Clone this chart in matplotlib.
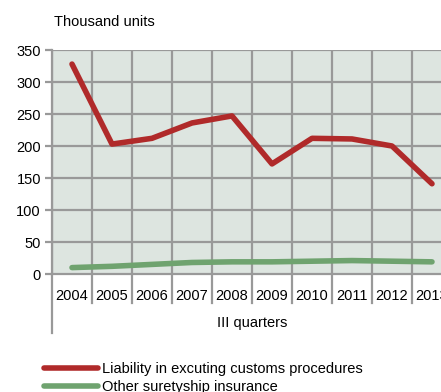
import matplotlib.pyplot as plt
import matplotlib.transforms as mtransforms
import numpy as np

# quarterly totals, thousand units
years = ['2004', '2005', '2006', '2007', '2008', '2009', '2010', '2011', '2012', '2013']
liability = [328, 203, 212, 236, 247, 172, 212, 211, 200, 141]
other = [10, 12, 15, 18, 19, 19, 20, 21, 20, 19]
yticks = [0, 50, 100, 150, 200, 250, 300, 350]

plt.rcParams['font.family'] = ['Liberation Sans', 'DejaVu Sans']

W, H = 441, 392
fig = plt.figure(figsize=(W / 100, H / 100), dpi=100)

# plot box in pixels: left 52, top 50, bottom 274, each category ~40px wide
left, top, bottom, cat_w = 52, 50, 274, 40
ax = fig.add_axes([left / W, (H - bottom) / H, cat_w * len(years) / W, (bottom - top) / H])
ax.set_facecolor('#dde5e0')

x = np.arange(len(years))
ax.set_xlim(-0.5, len(years) - 0.5)
ax.set_ylim(0, 350)

grid_c = '#999999'
for b in np.arange(-0.5, len(years), 1.0):
    ax.axvline(b, color=grid_c, lw=1.6, zorder=1)
for v in yticks[1:]:
    ax.axhline(v, color=grid_c, lw=1.6, zorder=1)

ax.plot(x, liability, color='#b02a2a', lw=4, solid_capstyle='round', zorder=3,
        label='Liability in excuting customs procedures')
ax.plot(x, other, color='#6fa36f', lw=4, solid_capstyle='round', zorder=3,
        label='Other suretyship insurance')

for s in ['top', 'right']:
    ax.spines[s].set_visible(False)
ax.spines['left'].set_color(grid_c)
ax.spines['left'].set_linewidth(1.6)
ax.spines['bottom'].set_color(grid_c)
ax.spines['bottom'].set_linewidth(1.6)

ax.set_yticks(yticks)
ax.set_yticklabels([str(v) for v in yticks], fontsize=10.5)
ax.tick_params(axis='y', length=5, width=1.6, color=grid_c, pad=3)
ax.set_xticks([])

# category separators and labels below the axis
tr = mtransforms.blended_transform_factory(ax.transData, fig.transFigure)
sep_bottom = (H - 303) / H
axis_y = (H - bottom) / H
for b in np.arange(0.5, len(years), 1.0):
    fig.add_artist(plt.Line2D([b, b], [axis_y, sep_bottom], transform=tr,
                              color=grid_c, lw=1.6))
fig.add_artist(plt.Line2D([-0.5, -0.5], [axis_y, (H - 333) / H], transform=tr,
                          color=grid_c, lw=1.6))
for i, yr in enumerate(years):
    fig.text(i, (H - 296) / H, yr, transform=tr, ha='center', va='center', fontsize=10.5)

fig.text(252 / W, (H - 323) / H, 'III quarters', ha='center', va='center', fontsize=10.5)
fig.text(54 / W, (H - 22) / H, 'Thousand units', ha='left', va='center', fontsize=10.5)

fig.legend(loc='upper left', bbox_to_anchor=(44 / W, (H - 362) / H), frameon=False,
           fontsize=10.5, handlelength=3.7, handletextpad=0.3, labelspacing=0.25,
           borderaxespad=0, borderpad=0)

fig.savefig('out.png', dpi=100)
